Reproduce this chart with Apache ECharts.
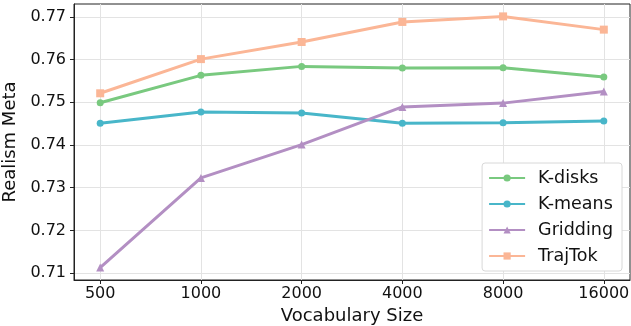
<!DOCTYPE html>
<html><head><meta charset="utf-8">
<script src="https://cdn.jsdelivr.net/npm/echarts@6/dist/echarts.min.js"></script>
<style>html,body{margin:0;padding:0;background:#fff}#c{width:631px;height:326px}</style>
</head><body><div id="c"></div>
<script>
const categories = ['500', '1000', '2000', '4000', '8000', '16000'];
const kDisks = [0.7499, 0.7563, 0.7584, 0.7580, 0.7581, 0.7559];
const kMeans = [0.7451, 0.7477, 0.7475, 0.7451, 0.7452, 0.7456];
const gridding = [0.7113, 0.7323, 0.7401, 0.7489, 0.7498, 0.7525];
const trajTok = [0.7521, 0.7601, 0.7641, 0.7688, 0.7701, 0.7670];
const yTicks = [0.71, 0.72, 0.73, 0.74, 0.75, 0.76, 0.77];

const toPairs = arr => arr.map((v, i) => [i, v]);
const font = 'DejaVu Sans';
const chart = echarts.init(document.getElementById('c'), null, {renderer: 'canvas'});
const mk = (name, data, color, symbol, size) => ({
  name, type: 'line', data: toPairs(data), symbol, symbolSize: size,
  lineStyle: {color, width: 3}, itemStyle: {color}, color,
  emphasis: {disabled: true}, animation: false, z: 3
});
chart.setOption({
  animation: false,
  grid: {left: 74, right: 1, top: 4, bottom: 46, show: true, borderColor: '#222', borderWidth: 1, outerBoundsMode: 'none', containLabel: false},
  xAxis: {
    type: 'value', min: -0.26, max: 5.26,
    name: 'Vocabulary Size', nameLocation: 'middle', nameGap: 24,
    nameTextStyle: {fontFamily: font, fontSize: 18, color: '#111'},
    axisLine: {show: true, onZero: false, lineStyle: {color: '#222'}},
    axisTick: {show: true, length: 4, lineStyle: {color: '#222'}, customValues: [0,1,2,3,4,5]},
    axisLabel: {customValues: [0,1,2,3,4,5], formatter: v => categories[Math.round(v)], fontFamily: font, fontSize: 16, color: '#111', margin: 6},
    splitLine: {show: true, lineStyle: {color: '#e3e3e3', width: 1}}
  },
  yAxis: {
    type: 'value', min: 0.7084, max: 0.7730,
    name: 'Realism Meta', nameLocation: 'middle', nameGap: 44,
    nameTextStyle: {fontFamily: font, fontSize: 18, color: '#111'},
    axisLine: {show: true, onZero: false, lineStyle: {color: '#222'}},
    axisTick: {show: true, length: 4, lineStyle: {color: '#222'}, customValues: yTicks},
    axisLabel: {customValues: yTicks, formatter: v => v.toFixed(2), fontFamily: font, fontSize: 16, color: '#111', margin: 8},
    splitLine: {show: true, lineStyle: {color: '#e3e3e3', width: 1}}
  },
  legend: {
    orient: 'vertical', right: 9, bottom: 55,
    data: ['K-disks', 'K-means', 'Gridding', 'TrajTok'],
    backgroundColor: '#fff', borderColor: '#d8d8d8', borderWidth: 1, borderRadius: 3,
    padding: [5, 9, 5, 6], itemWidth: 36, itemHeight: 9, itemGap: 6,
    textStyle: {fontFamily: font, fontSize: 17.5, lineHeight: 20, color: '#111', padding: [0,0,0,8]}
  },
  series: [
    mk('K-disks', kDisks, '#79c97f', 'circle', 7),
    mk('K-means', kMeans, '#48b6c9', 'circle', 7),
    mk('Gridding', gridding, '#b38fc3', 'triangle', 8),
    mk('TrajTok', trajTok, '#fbb696', 'rect', 8)
  ]
});
</script></body></html>
